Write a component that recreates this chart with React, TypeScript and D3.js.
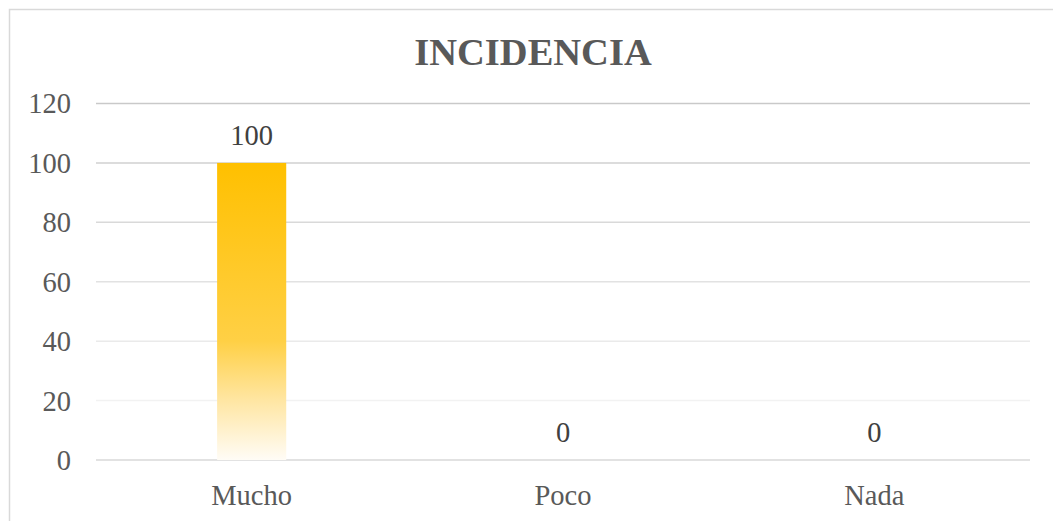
import React from 'react';
import * as d3 from 'd3';

const categories = ['Mucho', 'Poco', 'Nada'];
const values = [100, 0, 0];
const yTicks = [0, 20, 40, 60, 80, 100, 120];
const title = 'INCIDENCIA';

const W = 1053;
const H = 521;
const font = '"Liberation Serif", "Times New Roman", serif';

// gridlines fade from top to bottom in the reference
const gridColor = (v: number) =>
  v === 0 ? '#d9d9d9' : d3.interpolateRgb('#f2f2f2', '#c9c9c9')((v - 20) / 100);

export default function App() {
  const x = d3.scaleBand<string>().domain(categories).range([96, 1030]).padding(0);
  const y = d3.scaleLinear().domain([0, 120]).range([460, 103.5]);
  const barW = x.bandwidth() * 0.222;

  return (
    <svg
      width={W}
      height={H}
      style={{ position: 'absolute', left: 0, top: 0, background: '#fff' }}
      fontFamily={font}
    >
      <defs>
        <linearGradient id="barGrad" x1="0" y1="0" x2="0" y2="1">
          <stop offset="0" stopColor="#ffc000" />
          <stop offset="0.6" stopColor="#ffd045" />
          <stop offset="0.8" stopColor="#ffe6a3" />
          <stop offset="1" stopColor="#fffcf6" />
        </linearGradient>
      </defs>

      {/* chart border, cut off at right and bottom */}
      <rect x={9.5} y={9.5} width={W + 20} height={H + 20} fill="#fff" stroke="#d9d9d9" strokeWidth={1.5} />

      <text x={533} y={65} textAnchor="middle" fontSize={38.5} fontWeight="bold" fill="#595959">
        {title}
      </text>

      {/* gridlines */}
      {yTicks.map((t) => (
        <line
          key={t}
          x1={96}
          x2={1030}
          y1={y(t)}
          y2={y(t)}
          stroke={gridColor(t)}
          strokeWidth={1.5}
        />
      ))}

      {/* y tick labels */}
      {yTicks.map((t) => (
        <text key={t} x={71} y={y(t)} dy="0.35em" textAnchor="end" fontSize={28.5} fill="#595959">
          {t}
        </text>
      ))}

      {/* bars */}
      {categories.map((c, i) => {
        const cx = (x(c) ?? 0) + x.bandwidth() / 2;
        return values[i] > 0 ? (
          <rect
            key={c}
            x={cx - barW / 2}
            y={y(values[i])}
            width={barW}
            height={y(0) - y(values[i])}
            fill="url(#barGrad)"
          />
        ) : null;
      })}

      {/* data labels */}
      {categories.map((c, i) => {
        const cx = (x(c) ?? 0) + x.bandwidth() / 2;
        return (
          <text key={c} x={cx} y={y(values[i]) - 18} textAnchor="middle" fontSize={28.5} fill="#404040">
            {values[i]}
          </text>
        );
      })}

      {/* category labels */}
      {categories.map((c) => (
        <text
          key={c}
          x={(x(c) ?? 0) + x.bandwidth() / 2}
          y={505}
          textAnchor="middle"
          fontSize={28.5}
          fill="#595959"
        >
          {c}
        </text>
      ))}
    </svg>
  );
}
